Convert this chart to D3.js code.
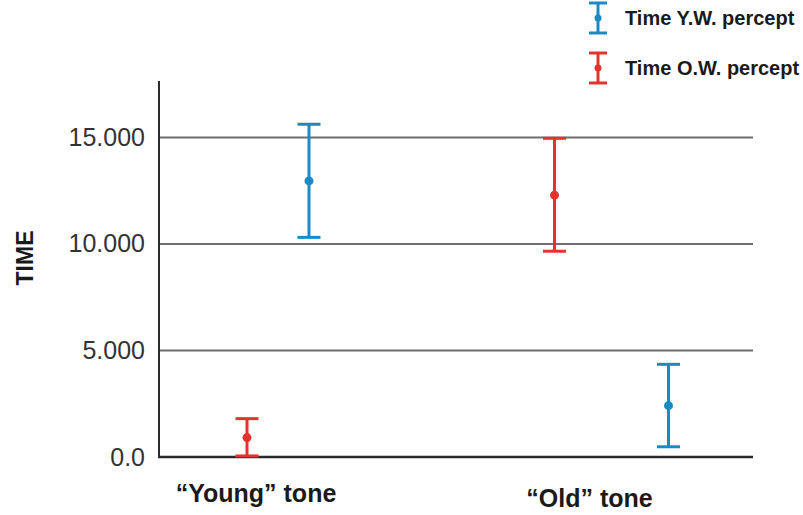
<!DOCTYPE html>
<html>
<head>
<meta charset="utf-8">
<script src="https://cdn.jsdelivr.net/npm/d3@7"></script>
<style>
  body { margin: 0; background: #fff; }
  svg { display: block; font-family: Arial, "Liberation Sans", sans-serif; }
</style>
</head>
<body>
<div id="chart"></div>
<script>
// Data
const categories = ['\u201CYoung\u201D tone', '\u201COld\u201D tone'];
const seriesNames = ['Time Y.W. percept', 'Time O.W. percept'];
const ywMean = [12.96, 2.41];
const ywLow = [10.31, 0.48];
const ywHigh = [15.62, 4.35];
const owMean = [0.91, 12.29];
const owLow = [0.05, 9.66];
const owHigh = [1.80, 14.96];
const yTicks = [0, 5, 10, 15];
const yTickLabels = ['0.0', '5.000', '10.000', '15.000'];

const width = 803;
const height = 515;
const blue = '#1b8ac4';
const red = '#e2342c';

const svg = d3.select('#chart')
  .append('svg')
  .attr('width', width)
  .attr('height', height);

// Scales
const y = d3.scaleLinear()
  .domain([0, 17.65])
  .range([457, 81]);

const x = d3.scalePoint()
  .domain(categories)
  .range([278, 611.5]);

// half distance between the two series inside each group
const dodge = d3.scaleOrdinal().domain(categories).range([31, 57]);

// Gridlines
svg.append('g')
  .selectAll('line')
  .data(yTicks.filter(d => d > 0))
  .enter()
  .append('line')
  .attr('x1', 159)
  .attr('x2', 753)
  .attr('y1', d => y(d))
  .attr('y2', d => y(d))
  .attr('stroke', '#6e6e6e')
  .attr('stroke-width', 2);

// Y axis
const yAxis = d3.axisLeft(y)
  .tickValues(yTicks)
  .tickFormat((d, i) => yTickLabels[i])
  .tickSize(0)
  .tickPadding(14);

const gy = svg.append('g')
  .attr('transform', 'translate(159,0)')
  .call(yAxis);

gy.select('.domain').remove();
gy.selectAll('text')
  .attr('fill', '#333')
  .style('font-size', '25px');

// Axis lines
svg.append('line')
  .attr('x1', 159).attr('x2', 159)
  .attr('y1', y.range()[1]).attr('y2', y(0))
  .attr('stroke', '#2a2a2a')
  .attr('stroke-width', 2);

svg.append('line')
  .attr('x1', 158).attr('x2', 753)
  .attr('y1', y(0)).attr('y2', y(0))
  .attr('stroke', '#2a2a2a')
  .attr('stroke-width', 2.5);

// Y label
svg.append('text')
  .attr('transform', `translate(33,${258}) rotate(-90)`)
  .attr('text-anchor', 'middle')
  .attr('fill', '#1a1a1a')
  .style('font-size', '23px')
  .style('font-weight', 'bold')
  .text('TIME');

// Category labels
svg.append('g')
  .selectAll('text')
  .data(categories)
  .enter()
  .append('text')
  .attr('x', d => x(d) - 22)
  .attr('y', (d, i) => 502 + i * 5)
  .attr('text-anchor', 'middle')
  .attr('fill', '#1a1a1a')
  .style('font-size', '25px')
  .style('font-weight', 'bold')
  .text(d => d);

// Error bars
const series = [
  { name: seriesNames[0], color: blue, side: 1, mean: ywMean, low: ywLow, high: ywHigh },
  { name: seriesNames[1], color: red, side: -1, mean: owMean, low: owLow, high: owHigh }
];

const capHalf = 11.5;

series.forEach(s => {
  const pts = categories.map((c, i) => ({
    x: x(c) + s.side * dodge(c),
    mean: s.mean[i],
    low: s.low[i],
    high: s.high[i]
  }));

  const g = svg.append('g').attr('class', 'errorbars');

  g.selectAll('line.stem')
    .data(pts)
    .enter()
    .append('line')
    .attr('x1', d => d.x).attr('x2', d => d.x)
    .attr('y1', d => y(d.low)).attr('y2', d => y(d.high))
    .attr('stroke', s.color)
    .attr('stroke-width', 3);

  ['low', 'high'].forEach(k => {
    g.selectAll('line.cap-' + k)
      .data(pts)
      .enter()
      .append('line')
      .attr('x1', d => d.x - capHalf).attr('x2', d => d.x + capHalf)
      .attr('y1', d => y(d[k])).attr('y2', d => y(d[k]))
      .attr('stroke', s.color)
      .attr('stroke-width', 3);
  });

  g.selectAll('circle')
    .data(pts)
    .enter()
    .append('circle')
    .attr('cx', d => d.x)
    .attr('cy', d => y(d.mean))
    .attr('r', 4.5)
    .attr('fill', s.color);
});

// Legend
const legend = svg.append('g').attr('class', 'legend');

series.forEach((s, i) => {
  const row = legend.append('g')
    .attr('transform', `translate(598,${18 + i * 50})`);

  row.append('line')
    .attr('x1', 0).attr('x2', 0)
    .attr('y1', -15).attr('y2', 15)
    .attr('stroke', s.color)
    .attr('stroke-width', 3);

  [-15, 15].forEach(dy => {
    row.append('line')
      .attr('x1', -9).attr('x2', 9)
      .attr('y1', dy).attr('y2', dy)
      .attr('stroke', s.color)
      .attr('stroke-width', 3);
  });

  row.append('circle')
    .attr('r', 3.5)
    .attr('fill', s.color);

  row.append('text')
    .attr('x', 27)
    .attr('y', 7)
    .attr('fill', '#1a1a1a')
    .style('font-size', '20px')
    .style('font-weight', 'bold')
    .text(s.name);
});
</script>
</body>
</html>
